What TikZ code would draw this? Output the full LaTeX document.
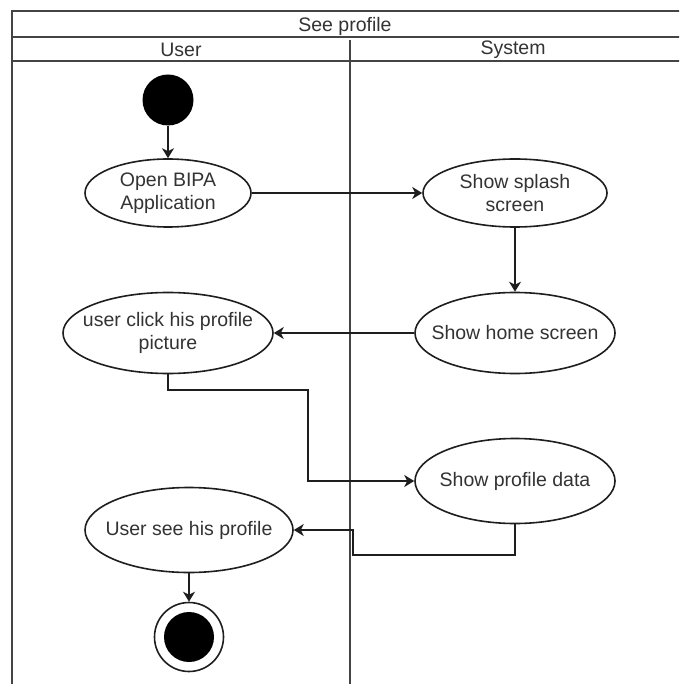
\documentclass[tikz,border=0pt]{standalone}
\usepackage{fontspec}
\setmainfont{Liberation Sans}
\usetikzlibrary{shapes.geometric,arrows.meta}
\definecolor{ink}{HTML}{1E1E1E}
\definecolor{txtc}{HTML}{333333}
\definecolor{frame}{HTML}{444444}
\begin{document}
\begin{tikzpicture}[x=1pt,y=-1pt,
  lane/.style={draw=frame,line width=1.7pt},
  act/.style={draw=ink,ellipse,line width=1.6pt,inner sep=0pt},
  lbl/.style={text=txtc,font=\fontsize{19.5}{23}\selectfont,align=center,inner sep=0pt},
  arr/.style={draw=ink,line width=1.6pt,-{Stealth[length=10pt,width=12pt,inset=3pt]}}]
\useasboundingbox (0,0) rectangle (679,684);
\clip (0,0) rectangle (679,684);
\fill[white] (0,0) rectangle (679,684);

% swimlane frame: title row, header row, two lanes
\draw[lane] (12,11) rectangle (700,720);
\draw[lane] (12,37) -- (700,37);
\draw[lane] (12,61) -- (700,61);
\draw[lane] (350,40) -- (350,720);
\node[lbl] (title) at (345,26) {See profile};
\node[lbl] (laneU) at (181,50) {User};
\node[lbl] (laneS) at (513,50) {System};

% initial and final states
\node[circle,fill=black,minimum size=51pt,inner sep=0pt] (start) at (168,100) {};
\node[circle,draw=ink,line width=1.6pt,fill=white,minimum size=69pt,inner sep=0pt] (stop) at (189,637) {};
\node[circle,fill=black,minimum size=50pt,inner sep=0pt] (stopdot) at (stop) {};

% activities
\node[act,minimum width=166pt,minimum height=68pt] (open) at (168,193) {};
\node[lbl] (openT) at (open) {Open BIPA\\Application};
\node[act,minimum width=184pt,minimum height=68pt] (splash) at (515,193) {};
\node[lbl] (splashT) at (splash) {Show splash\\screen};
\node[act,minimum width=200pt,minimum height=81pt] (home) at (515,333) {};
\node[lbl] (homeT) at (home) {Show home screen};
\node[act,minimum width=210pt,minimum height=81pt] (click) at (168,333) {};
\node[lbl] (clickT) at (click) {user click his profile\\picture};
\node[act,minimum width=200pt,minimum height=85pt] (profile) at (515,481) {};
\node[lbl] (profileT) at (profile) {Show profile data};
\node[act,minimum width=208pt,minimum height=85pt] (see) at (189,530) {};
\node[lbl] (seeT) at (see) {User see his profile};

% bend points of the routed connectors
\coordinate (bendA) at (308,390);
\coordinate (bendB) at (353,555);

% control flow
\draw[arr] (start) -- (open);
\draw[arr] (open) -- (splash);
\draw[arr] (splash) -- (home);
\draw[arr] (home) -- (click);
\draw[arr] (click.south) |- (bendA) |- (profile.west);
\draw[arr] (profile.south) |- (bendB) |- (see.east);
\draw[arr] (see) -- (stop);
\end{tikzpicture}
\end{document}
